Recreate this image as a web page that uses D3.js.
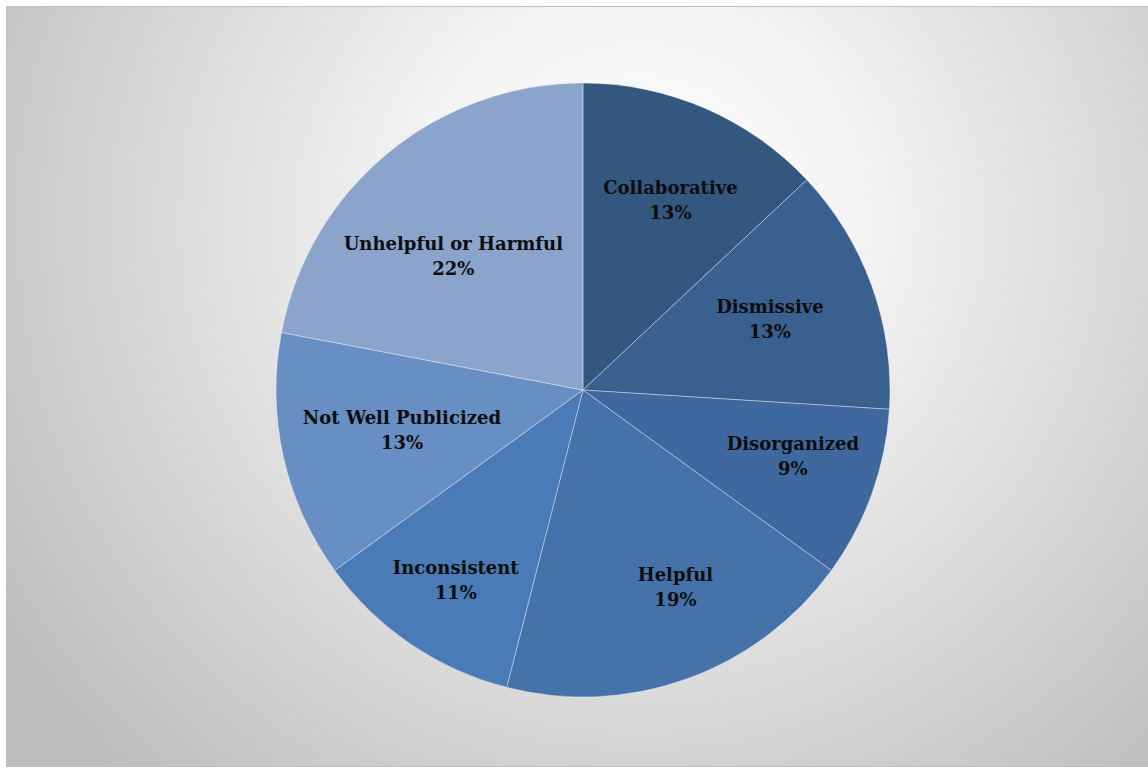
<!DOCTYPE html>
<html>
<head>
<meta charset="utf-8">
<script src="https://cdn.jsdelivr.net/npm/d3@7"></script>
<style>
  html, body { margin: 0; padding: 0; background: #ffffff; }
  svg { display: block; }
</style>
</head>
<body>
<svg id="chart" width="1148" height="769"></svg>
<script>
// Survey responses: how the process was perceived
const categories = ["Collaborative", "Dismissive", "Disorganized", "Helpful", "Inconsistent", "Not Well Publicized", "Unhelpful or Harmful"];
const percents = [13, 13, 9, 19, 11, 13, 22];
const sliceColors = ["#34577f", "#3a6090", "#3f699e", "#4572a9", "#4a7bb6", "#678fc3", "#8aa4cc"];

// Small hand adjustments to each label so the text sits comfortably in its slice
const labelNudge = [[6, -2], [-6, -2], [17, -3], [23, 4], [-12, 20], [19, -5], [1, 24]];

const width = 1148, height = 769;
const cx = 583, cy = 390, radius = 307;

const svg = d3.select("#chart");
const defs = svg.append("defs");

// Soft radial backdrop, light near the top of the pie fading to grey
const grad = defs.append("radialGradient")
  .attr("id", "bg")
  .attr("gradientUnits", "userSpaceOnUse")
  .attr("cx", 640).attr("cy", 220).attr("r", 760);
grad.append("stop").attr("offset", "0%").attr("stop-color", "#ffffff");
grad.append("stop").attr("offset", "30%").attr("stop-color", "#f3f3f3");
grad.append("stop").attr("offset", "100%").attr("stop-color", "#bdbdbd");

svg.append("rect")
  .attr("x", 6.5).attr("y", 6.5)
  .attr("width", width + 10).attr("height", 760)
  .attr("fill", "url(#bg)")
  .attr("stroke", "#bfbfbf")
  .attr("stroke-width", 1);

const data = categories.map((c, i) => ({ name: c, value: percents[i], color: sliceColors[i], nudge: labelNudge[i] }));

const pie = d3.pie().value(d => d.value).sort(null);
const arcs = pie(data);

const arc = d3.arc().innerRadius(0).outerRadius(radius);
const labelArc = d3.arc().innerRadius(205).outerRadius(205);

const g = svg.append("g").attr("transform", `translate(${cx},${cy})`);

g.selectAll("path.slice")
  .data(arcs)
  .join("path")
  .attr("class", "slice")
  .attr("d", arc)
  .attr("fill", d => d.data.color)
  .attr("stroke", "rgba(255,255,255,0.45)")
  .attr("stroke-width", 0.8);

const labels = g.selectAll("text.lbl")
  .data(arcs)
  .join("text")
  .attr("class", "lbl")
  .attr("transform", d => {
    const [x, y] = labelArc.centroid(d);
    return `translate(${x + d.data.nudge[0]},${y + d.data.nudge[1]})`;
  })
  .attr("text-anchor", "middle")
  .attr("font-family", "'DejaVu Serif', serif")
  .attr("font-weight", "bold")
  .attr("font-size", 18)
  .attr("fill", "#0d0d0d");

labels.append("tspan")
  .attr("x", 0).attr("y", -6)
  .text(d => d.data.name);
labels.append("tspan")
  .attr("x", 0).attr("y", 19)
  .text(d => d.data.value + "%");
</script>
</body>
</html>
